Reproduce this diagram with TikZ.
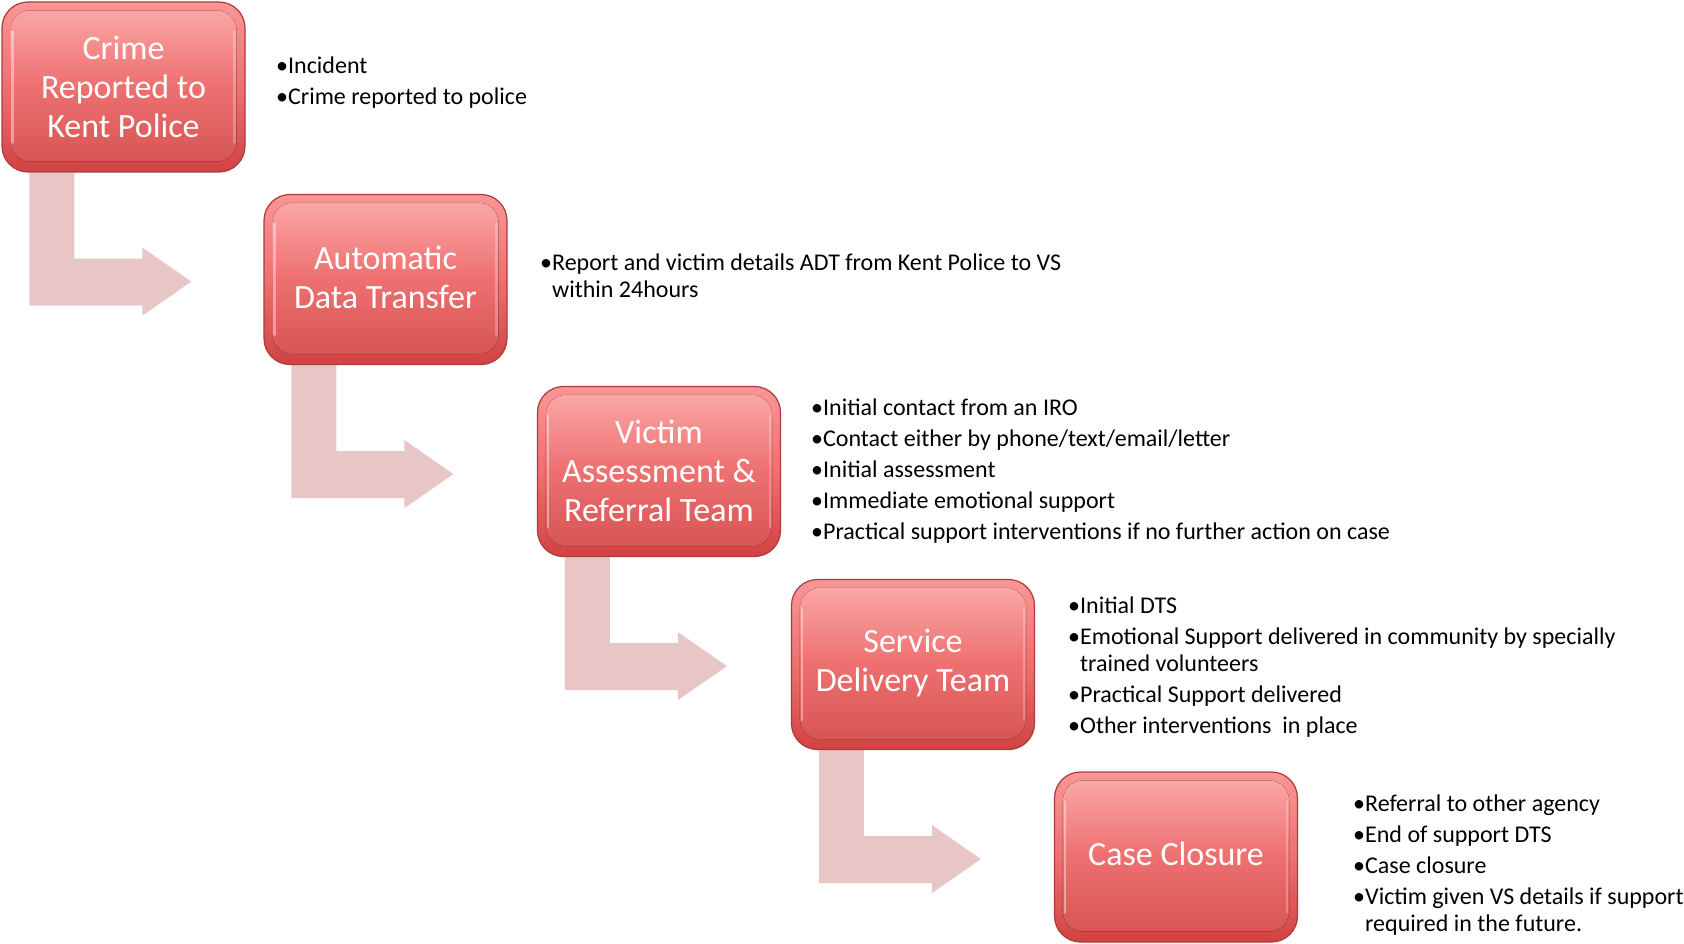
\documentclass[tikz,border=0pt]{standalone}
\usepackage{fontspec}
\setmainfont{Carlito}
\usetikzlibrary{calc,backgrounds}
\definecolor{boxtop}{RGB}{250,150,150}
\definecolor{boxmid}{RGB}{238,112,112}
\definecolor{boxbot}{RGB}{210,66,66}
\definecolor{boxedge}{RGB}{170,60,60}
\definecolor{arrowfill}{RGB}{233,198,198}
\tikzset{
  boxouter/.style={rectangle, minimum width=243pt, minimum height=170pt, rounded corners=26pt,
     top color=boxtop, bottom color=boxbot, middle color=boxmid, draw=boxedge, line width=1.2pt, inner sep=0pt},
  boxtext/.style={text=white, align=center, font=\fontsize{34}{39}\selectfont, inner sep=0pt},
  listtext/.style={anchor=north west, align=left, inner sep=0pt, font=\fontsize{24}{27}\selectfont, text=black},
  bentarrow/.style={fill=arrowfill, draw=none},
}
\newcommand\stepbox[4]{%
  \node[boxouter] (#1) at (#2) {};
  \fill[top color=boxtop!85!white, bottom color=boxbot!90!white, middle color=boxmid, rounded corners=20pt]
     ($(#1.north west)+(9,9)$) rectangle ($(#1.south east)+(-9,-11)$);
  \draw[white, opacity=0.4, line width=2.5pt, line cap=round] ($(#1.north west)+(11,30)$) -- ($(#1.south west)+(11,-30)$);
  \draw[white, opacity=0.25, line width=2.5pt, line cap=round] ($(#1.north east)+(-11,30)$) -- ($(#1.south east)+(-11,-30)$);
  \node[boxtext] (#1t) at ($(#1)+(0,#4)$) {#3};
}
\newcommand\bendarrow[1]{%
  \fill[bentarrow] ($(#1.south west)+(28,0)$) -- ($(#1.south west)+(73,0)$) -- ($(#1.south west)+(73,86)$)
    -- ($(#1.south west)+(141,86)$) -- ($(#1.south west)+(141,75)$) -- ($(#1.south west)+(190,109)$)
    -- ($(#1.south west)+(141,143)$) -- ($(#1.south west)+(141,133)$) -- ($(#1.south west)+(28,133)$) -- cycle;
}
\begin{document}
\begin{tikzpicture}[x=1pt,y=-1pt]
\useasboundingbox (0,0) rectangle (1684,944);
\stepbox{b1}{123.5,87}{Crime\\Reported to\\Kent Police}{0}
\stepbox{b2}{385.5,279.5}{Automatic\\Data Transfer}{-2}
\stepbox{b3}{659,471.5}{Victim\\Assessment \&\\Referral Team}{-1}
\stepbox{b4}{913,664.5}{Service\\Delivery Team}{-1}
\stepbox{b5}{1176,857}{Case Closure}{-3}
\begin{scope}[on background layer]
\bendarrow{b1}
\bendarrow{b2}
\bendarrow{b3}
\bendarrow{b4}
\end{scope}
\node[listtext] (l1) at (276,57) {•Incident\\[4pt]•Crime reported to police};
\node[listtext] (l2) at (540,254) {•Report and victim details ADT from Kent Police to VS\\\phantom{•}within 24hours};
\node[listtext] (l3) at (811,399) {•Initial contact from an IRO\\[4pt]•Contact either by phone/text/email/letter\\[4pt]•Initial assessment\\[4pt]•Immediate emotional support\\[4pt]•Practical support interventions if no further action on case};
\node[listtext] (l4) at (1068,597) {•Initial DTS\\[4pt]•Emotional Support delivered in community by specially\\\phantom{•}trained volunteers\\[4pt]•Practical Support delivered\\[4pt]•Other interventions\ \ in place};
\node[listtext] (l5) at (1353,795) {•Referral to other agency\\[4pt]•End of support DTS\\[4pt]•Case closure\\[4pt]•Victim given VS details if support\\\phantom{•}required in the future.};
\end{tikzpicture}
\end{document}
